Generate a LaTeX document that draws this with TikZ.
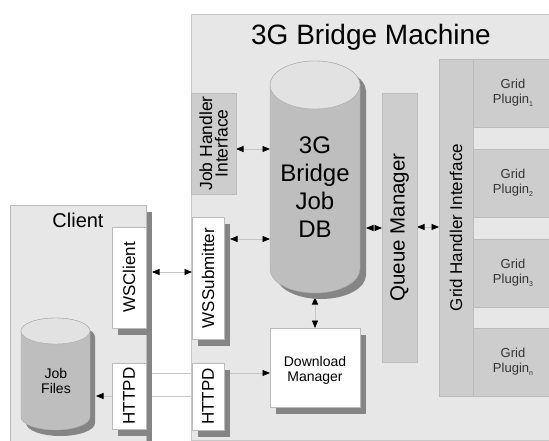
\documentclass[tikz,border=0pt]{standalone}
\usepackage{fontspec}
\setmainfont{Liberation Sans}
\usetikzlibrary{arrows.meta,calc,shadows}
\definecolor{bgc}{HTML}{E7E7E7}
\definecolor{bordc}{HTML}{C8C8C8}
\definecolor{boxc}{HTML}{CDCDCD}
\definecolor{boxb}{HTML}{BBBBBB}
\definecolor{shadc}{HTML}{858585}
\definecolor{cylbody}{HTML}{BEBEBE}
\definecolor{cyltop}{HTML}{E2E2E2}
\definecolor{cylline}{HTML}{A8A8A8}
\definecolor{linec}{HTML}{C6C6C6}
\pgfdeclarelayer{bg}
\pgfdeclarelayer{lines}
\pgfsetlayers{bg,lines,main}
\newcommand{\lowsub}[1]{\raisebox{-3.5pt}{\fontsize{7}{7}\selectfont #1}}
\begin{document}
\begin{tikzpicture}[x=1pt,y=-1pt,
  >={Triangle[length=7.5pt,width=6pt,color=black]},
  wbox/.style={draw=boxb, fill=white, inner sep=0pt, outer sep=0pt,
    general shadow={fill=shadc, shadow xshift=6pt, shadow yshift=-7pt}},
  gbox/.style={draw=boxb, fill=boxc, inner sep=0pt, outer sep=0pt},
  rot/.style={rotate=90, inner sep=0pt, font=\fontsize{17}{17}\selectfont},
  con/.style={draw=linec, line width=0.8pt},
  ghost/.style={draw=none, inner sep=0pt, outer sep=0pt}
]
\useasboundingbox (0,0) rectangle (549,441);
\clip (0,0) rectangle (549,441);

\begin{pgfonlayer}{bg}
\node[draw=bordc, fill=bgc, anchor=north west, inner sep=0pt,
  minimum width=365pt, minimum height=426pt] (bridge) at (191,14) {};
\node[draw=boxb, fill=bgc, anchor=north west, inner sep=0pt,
  minimum width=136pt, minimum height=240pt,
  general shadow={fill=shadc, shadow xshift=6pt, shadow yshift=-7pt}] (client) at (10,205) {};
\end{pgfonlayer}

% titles
\node[font=\fontsize{28}{30}\selectfont] (title) at (371,37) {3G Bridge Machine};
\node[font=\fontsize{20}{22}\selectfont] (clientt) at (78,220) {Client};

% Job Files cylinder
\begin{scope}[shift={(5,6)}]
\fill[shadc] (21,331) -- (21,417) arc[start angle=180,end angle=360,x radius=34.5pt,y radius=13pt]
  -- (90,331) arc[start angle=0,end angle=180,x radius=34.5pt,y radius=13pt] -- cycle;
\end{scope}
\filldraw[fill=cylbody, draw=cylline] (21,331) -- (21,417) arc[start angle=180,end angle=360,x radius=34.5pt,y radius=13pt]
  -- (90,331) arc[start angle=0,end angle=180,x radius=34.5pt,y radius=13pt] -- cycle;
\filldraw[fill=cyltop, draw=cylline] (55.5,331) ellipse[x radius=34.5pt, y radius=13pt];
\node[ghost, minimum width=69pt, minimum height=112pt] (jf) at (55.5,374) {};
\node[font=\fontsize{14}{15}\selectfont, align=center] (jft) at (56,381) {Job\\Files};

% DB cylinder
\begin{scope}[shift={(6,6)}]
\fill[shadc] (270,85) -- (270,269) arc[start angle=180,end angle=360,x radius=45pt,y radius=24pt]
  -- (360,85) arc[start angle=0,end angle=180,x radius=45pt,y radius=24pt] -- cycle;
\end{scope}
\filldraw[fill=cylbody, draw=cylline] (270,85) -- (270,269) arc[start angle=180,end angle=360,x radius=45pt,y radius=24pt]
  -- (360,85) arc[start angle=0,end angle=180,x radius=45pt,y radius=24pt] -- cycle;
\filldraw[fill=cyltop, draw=cylline] (315,85) ellipse[x radius=45pt, y radius=24pt];
\node[ghost, minimum width=90pt, minimum height=232pt] (db) at (315,177) {};
\node[font=\fontsize{24}{28}\selectfont, align=center] (dbt) at (315,187) {3G\\Bridge\\Job\\DB};

% client boxes
\node[wbox, minimum width=34pt, minimum height=101pt] (wsc) at (129,277.5) {};
\node[rot] (wsct) at (wsc) {WSClient};
\node[wbox, minimum width=34pt, minimum height=66pt] (hc) at (129,396) {};
\node[rot] (hct) at (hc) {HTTPD};

% bridge boxes
\node[gbox, minimum width=45pt, minimum height=101pt] (jhi) at (213.5,143.5) {};
\node[rot, align=center, font=\fontsize{17.5}{15.5}\selectfont] (jhit) at (jhi) {Job Handler\\Interface};
\node[wbox, minimum width=32pt, minimum height=122pt] (wss) at (208,278) {};
\node[rot] (wsst) at (wss) {WSSubmitter};
\node[wbox, minimum width=32pt, minimum height=67pt] (hb) at (208,396.5) {};
\node[rot] (hbt) at (hb) {HTTPD};
\node[wbox, minimum width=90pt, minimum height=79pt] (dm) at (315,367.5) {};
\node[font=\fontsize{14}{15}\selectfont, align=center] (dmt) at (315,370) {Download\\Manager};
\node[gbox, minimum width=35pt, minimum height=269pt] (qm) at (399.5,227.5) {};
\node[rot, font=\fontsize{20.5}{22}\selectfont] (qmt) at (qm) {Queue Manager};
\node[gbox, minimum width=34pt, minimum height=337pt] (ghi) at (456,227.5) {};
\node[rot] (ghit) at (ghi) {Grid Handler Interface};

% plugins
\foreach \n/\y/\s in {p1/93/1, p2/183/2, p3/273/3, pn/362/n}{
  \node[gbox, minimum width=78pt, minimum height=68pt] (\n) at (512,\y) {};
  \node[font=\fontsize{13}{15}\selectfont, align=center, text=black!80] (\n t) at ([xshift=1pt]\n.center) {Grid\\Plugin\lowsub{\s}};
}

% connectors
\begin{pgfonlayer}{lines}
\draw[con,<->] (jhi.east |- 0,149) -- (db.west |- 0,149);
\draw[con,<->] ($(wss.east)+(6,-39)$) -- (db.west |- 0,239);
\draw[con,<->] ($(wsc.east)+(6,-5.5)$) -- ($(wss.west)+(0,-6)$);
\draw[con,<->] ($(db.east)+(6,51)$) -- (qm.west |- 0,228);
\draw[con,<->] (qm.east |- 0,227) -- (ghi.west |- 0,227);
\draw[con,<->] ($(db.south)+(0,4)$) -- (dm.north);
\draw[con,->] (hc.east |- 0,373) -- (dm.west |- 0,373);
\draw[con,->] (hb.west |- 0,396) -- ($(jf.east)+(6,22)$);
\end{pgfonlayer}
\end{tikzpicture}
\end{document}
